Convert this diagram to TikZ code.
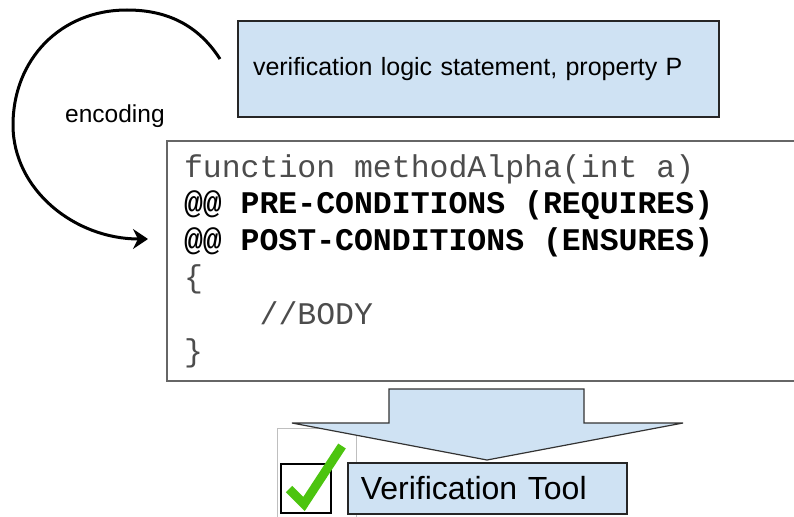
\documentclass[tikz,border=0pt]{standalone}
\usepackage{fontspec}
\setmainfont{Liberation Sans}
\setmonofont{Liberation Mono}
\usepackage{xcolor}
\usepackage{tikz}
\usetikzlibrary{arrows.meta}

\definecolor{boxblue}{HTML}{CFE2F3}
\definecolor{tickgreen}{HTML}{4CC40F}

\begin{document}
\begin{tikzpicture}[x=1pt, y=-1pt,
    bluebox/.style={draw=black!85, line width=1.5pt, fill=boxblue, align=left},
    codebox/.style={draw=black!60, line width=2pt, align=left,
        font=\ttfamily\fontsize{31.5}{36.8}\selectfont}]
    \useasboundingbox (0,0) rectangle (794,516);

    % 逻辑语句
    \node[bluebox, text width=451pt, inner xsep=15pt, minimum height=96pt,
          font=\fontsize{25}{30}\selectfont] (stmt) at (478.5,69)
        {verification logic statement, property P};

    % 编码弧线
    \coordinate (enc from) at (220,59);
    \coordinate (enc to) at (148,239);
    \draw[line width=3pt, -{Stealth[length=15pt, width=20pt, inset=5pt]}]
        (enc from) .. controls (195,20) and (160,10) .. (127,10)
        .. controls (60,10) and (13,60) .. (13,125)
        .. controls (13,190) and (75,239) .. (enc to);
    \node[anchor=base west, inner sep=0, font=\fontsize{24.5}{29}\selectfont] (enc) at (65,122) {encoding};

    % 代码框
    \node[codebox, anchor=north west, text width=626pt, inner xsep=17pt, minimum height=240pt] (code) at (166,140)
        {\spaceskip=18.9pt\relax
         \textcolor{black!70}{function methodAlpha(int a)}\\
         \textbf{@@ PRE-CONDITIONS (REQUIRES)}\\
         \textbf{@@ POST-CONDITIONS (ENSURES)}\\
         \textcolor{black!70}{\{}\\
         \textcolor{black!70}{\hspace*{2.4em}//BODY}\\
         \textcolor{black!70}{\}}};

    % 勾选框
    \draw[black!25, line width=0.8pt] (277,428) rectangle (356,530);
    \node[draw, line width=1.5pt, minimum width=50pt, minimum height=49pt, inner sep=0] (chk) at (306,488.5) {};

    % 粗箭头
    \draw[draw=black!80, line width=1.2pt, fill=boxblue, line join=miter]
        (389,389) -- (584,389) -- (584,423) -- (683,423) -- (487,460)
        -- (292,423) -- (389,423) -- cycle;

    % 验证工具
    \node[bluebox, anchor=north west, text width=253pt, inner xsep=13pt, minimum height=51pt,
          font=\fontsize{32}{38}\selectfont] (tool) at (347,462) {Verification Tool};
    \draw[tickgreen, line width=9pt] (289,489) -- (304,504) -- (342,446);
\end{tikzpicture}
\end{document}
